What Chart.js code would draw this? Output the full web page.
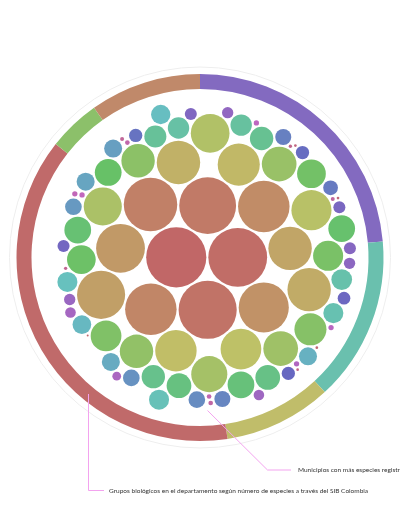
<!DOCTYPE html>
<html><head><meta charset="utf-8">
<script src="https://cdn.jsdelivr.net/npm/chart.js@4.4.1/dist/chart.umd.min.js"></script>
<style>
html,body{margin:0;padding:0;background:#fff;width:400px;height:516px;overflow:hidden;}
#wrap{position:absolute;left:0;top:57px;width:400px;height:401px;}
#wrap canvas{position:absolute;left:0;top:0;}
#lines{position:absolute;left:0;top:0;}
.lbl{position:absolute;font-family:Lato,'Liberation Sans',sans-serif;font-size:6.5px;color:#333;white-space:nowrap;line-height:7px;}
</style></head><body>
<div id="wrap">
  <canvas id="ring" width="400" height="401"></canvas>
  <canvas id="bubbles" width="400" height="401"></canvas>
</div>
<svg id="lines" width="400" height="516">
  <polyline points="88.5,394 88.5,490.5 104,490.5" fill="none" stroke="#f3a3ef" stroke-width="1"/>
  <polyline points="207.5,410.5 267.5,470 291,470" fill="none" stroke="#f3a3ef" stroke-width="1"/>
</svg>
<div class="lbl" style="left:298px;top:465.5px;">Municipios con más especies registradas</div>
<div class="lbl" style="left:109px;top:486.5px;">Grupos biológicos en el departamento según número de especies a través del SIB Colombia</div>
<script>
// ---- data ----
const groupLabels = ['Grupo 1','Grupo 2','Grupo 3','Grupo 4','Grupo 5','Grupo 6'];
const groupShares = [23.6, 14.5, 9.5, 38.0, 4.6, 9.8];
const groupColors = ['#836ac0','#6ac0ae','#c0bd6a','#c06a6a','#8cc06a','#c0896a'];

const municipioValues = [900,860,841,803,711,659,659,625,592,576,
  469,469,469,441,427,413,400,373,361,324,
  300,300,278,278,256,235,225,205,205,178,
  178,178,178,152,152,136,136,121,114,114,
  107,100,100,100,93,87,81,81,81,81,
  69,69,69,64,64,54,44,44,44,40,
  36,36,36,36,32,32,32,28,28,19,
  7,7,7,7,7,5.4,5.4,5.4,4,4,
  2.8,2.8,1.8,1.8,1.8,1.8,1];
const municipioLabels = municipioValues.map((v,i)=>'Municipio '+(i+1));

// ---- circle packing (front-chain, as in d3.packSiblings) ----
function place(b, a, c) {
  var dx = b.x - a.x, x, a2, dy = b.y - a.y, y, b2, d2 = dx*dx + dy*dy;
  if (d2) {
    a2 = a.r + c.r; a2 *= a2; b2 = b.r + c.r; b2 *= b2;
    if (a2 > b2) {
      x = (d2 + b2 - a2) / (2*d2); y = Math.sqrt(Math.max(0, b2/d2 - x*x));
      c.x = b.x - x*dx - y*dy; c.y = b.y - x*dy + y*dx;
    } else {
      x = (d2 + a2 - b2) / (2*d2); y = Math.sqrt(Math.max(0, a2/d2 - x*x));
      c.x = a.x + x*dx - y*dy; c.y = a.y + x*dy + y*dx;
    }
  } else { c.x = a.x + c.r; c.y = a.y; }
}
function intersects(a, b) { var dr = a.r + b.r - 1e-6, dx = b.x - a.x, dy = b.y - a.y; return dr > 0 && dr*dr > dx*dx + dy*dy; }
function score(node) { var a = node._, b = node.next._, ab = a.r + b.r, dx = (a.x*b.r + b.x*a.r)/ab, dy = (a.y*b.r + b.y*a.r)/ab; return dx*dx + dy*dy; }
function Node(c) { this._ = c; this.next = null; this.previous = null; }
function enclosesNot(a, b) { var dr = a.r - b.r, dx = b.x - a.x, dy = b.y - a.y; return dr < 0 || dr*dr < dx*dx + dy*dy; }
function enclosesWeak(a, b) { var dr = a.r - b.r + Math.max(a.r, b.r, 1)*1e-9, dx = b.x - a.x, dy = b.y - a.y; return dr > 0 && dr*dr > dx*dx + dy*dy; }
function enclosesWeakAll(a, B) { for (var i = 0; i < B.length; ++i) if (!enclosesWeak(a, B[i])) return false; return true; }
function encloseBasis1(a) { return {x:a.x, y:a.y, r:a.r}; }
function encloseBasis2(a, b) {
  var x1=a.x,y1=a.y,r1=a.r,x2=b.x,y2=b.y,r2=b.r,x21=x2-x1,y21=y2-y1,r21=r2-r1,l=Math.sqrt(x21*x21+y21*y21);
  return {x:(x1+x2+x21/l*r21)/2, y:(y1+y2+y21/l*r21)/2, r:(l+r1+r2)/2};
}
function encloseBasis3(a, b, c) {
  var x1=a.x,y1=a.y,r1=a.r,x2=b.x,y2=b.y,r2=b.r,x3=c.x,y3=c.y,r3=c.r,
    a2=x1-x2,a3=x1-x3,b2=y1-y2,b3=y1-y3,c2=r2-r1,c3=r3-r1,
    d1=x1*x1+y1*y1-r1*r1,d2=d1-x2*x2-y2*y2+r2*r2,d3=d1-x3*x3-y3*y3+r3*r3,
    ab=a3*b2-a2*b3,xa=(b2*d3-b3*d2)/(ab*2)-x1,xb=(b3*c2-b2*c3)/ab,
    ya=(a3*d2-a2*d3)/(ab*2)-y1,yb=(a2*c3-a3*c2)/ab,
    A=xb*xb+yb*yb-1,B=2*(r1+xa*xb+ya*yb),C=xa*xa+ya*ya-r1*r1,
    r=-(Math.abs(A)>1e-6?(B+Math.sqrt(B*B-4*A*C))/(2*A):C/B);
  return {x:x1+xa+xb*r, y:y1+ya+yb*r, r:r};
}
function encloseBasis(B) { return B.length===1?encloseBasis1(B[0]):B.length===2?encloseBasis2(B[0],B[1]):encloseBasis3(B[0],B[1],B[2]); }
function extendBasis(B, p) {
  var i, j;
  if (enclosesWeakAll(p, B)) return [p];
  for (i = 0; i < B.length; ++i) if (enclosesNot(p, B[i]) && enclosesWeakAll(encloseBasis2(B[i], p), B)) return [B[i], p];
  for (i = 0; i < B.length - 1; ++i) for (j = i + 1; j < B.length; ++j)
    if (enclosesNot(encloseBasis2(B[i], B[j]), p) && enclosesNot(encloseBasis2(B[i], p), B[j]) &&
        enclosesNot(encloseBasis2(B[j], p), B[i]) && enclosesWeakAll(encloseBasis3(B[i], B[j], p), B)) return [B[i], B[j], p];
  return B.concat([p]).slice(-3);
}
function enclose(circles) {
  var i = 0, n = circles.length, B = [], p, e, guard = 0;
  while (i < n && guard++ < 100000) { p = circles[i]; if (e && enclosesWeak(e, p)) ++i; else { B = extendBasis(B, p); e = encloseBasis(B); i = 0; } }
  return e;
}
function packSiblings(circles) {
  var a, b, c, n = circles.length, aa, ca, i, j, k, sj, sk;
  a = circles[0]; a.x = 0; a.y = 0;
  b = circles[1]; a.x = -b.r; b.x = a.r; b.y = 0;
  place(b, a, c = circles[2]);
  a = new Node(a); b = new Node(b); c = new Node(c);
  a.next = c.previous = b; b.next = a.previous = c; c.next = b.previous = a;
  pack: for (i = 3; i < n; ++i) {
    place(a._, b._, c = circles[i]); c = new Node(c);
    j = b.next; k = a.previous; sj = b._.r; sk = a._.r;
    do {
      if (sj <= sk) {
        if (intersects(j._, c._)) { b = j; a.next = b; b.previous = a; --i; continue pack; }
        sj += j._.r; j = j.next;
      } else {
        if (intersects(k._, c._)) { a = k; a.next = b; b.previous = a; --i; continue pack; }
        sk += k._.r; k = k.previous;
      }
    } while (j !== k.next);
    c.previous = a; c.next = b; a.next = b.previous = b = c;
    aa = score(a);
    while ((c = c.next) !== b) { if ((ca = score(c)) < aa) { a = c; aa = ca; } }
    b = a.next;
  }
  a = [b._]; c = b; while ((c = c.next) !== b) a.push(c._);
  c = enclose(a);
  for (i = 0; i < n; ++i) { a = circles[i]; a.x -= c.x; a.y -= c.y; }
  return c.r;
}
function packLayout(values, targetR, pad) {
  const total = values.reduce((s,v)=>s+v,0);
  let k = targetR * 0.85 / Math.sqrt(total);
  let circles;
  for (let it = 0; it < 10; it++) {
    circles = values.map(v => ({r: Math.sqrt(v)*k + pad, x:0, y:0}));
    const E = packSiblings(circles);
    k *= targetR / (E - pad);
  }
  circles = values.map(v => ({r: Math.sqrt(v)*k + pad, x:0, y:0}));
  packSiblings(circles);
  return circles.map(c => ({x:c.x, y:c.y, r:c.r - pad}));
}

const layout = packLayout(municipioValues, 158, 1);
const n = municipioValues.length;
const bubbleColors = municipioValues.map((v,i)=>`hsl(${(360*i/n).toFixed(1)},42%,58%)`);

// ---- ring ----
const haloPlugin = {
  id:'halo',
  beforeDraw(chart){
    const {ctx, chartArea} = chart;
    const cx = (chartArea.left+chartArea.right)/2, cy = (chartArea.top+chartArea.bottom)/2;
    ctx.save(); ctx.beginPath(); ctx.arc(cx, cy, 190.5, 0, Math.PI*2);
    ctx.strokeStyle = '#eeeeee'; ctx.lineWidth = 1; ctx.stroke(); ctx.restore();
  }
};
new Chart(document.getElementById('ring'), {
  type:'doughnut',
  data:{labels:groupLabels, datasets:[{data:groupShares, backgroundColor:groupColors, borderWidth:0}]},
  options:{responsive:false, animation:false, events:[], radius:183.5, cutout:(168.5/183.5*100).toFixed(2)+'%',
    layout:{padding:0},
    plugins:{legend:{display:false}, tooltip:{enabled:false}}},
  plugins:[haloPlugin]
});

// ---- bubbles ----
new Chart(document.getElementById('bubbles'), {
  type:'bubble',
  data:{datasets:[{
    label:'Municipios',
    data: layout.map((c,i)=>({x:c.x, y:c.y, r:c.r, v:municipioValues[i]})),
    backgroundColor: bubbleColors, borderWidth:0, hoverRadius:0
  }]},
  options:{responsive:false, animation:false, events:[],
    layout:{padding:0, autoPadding:false},
    scales:{
      x:{type:'linear', min:-200, max:200, display:false},
      y:{type:'linear', min:-200.5, max:200.5, reverse:true, display:false}
    },
    plugins:{legend:{display:false}, tooltip:{enabled:false}}}
});
</script>
</body></html>
